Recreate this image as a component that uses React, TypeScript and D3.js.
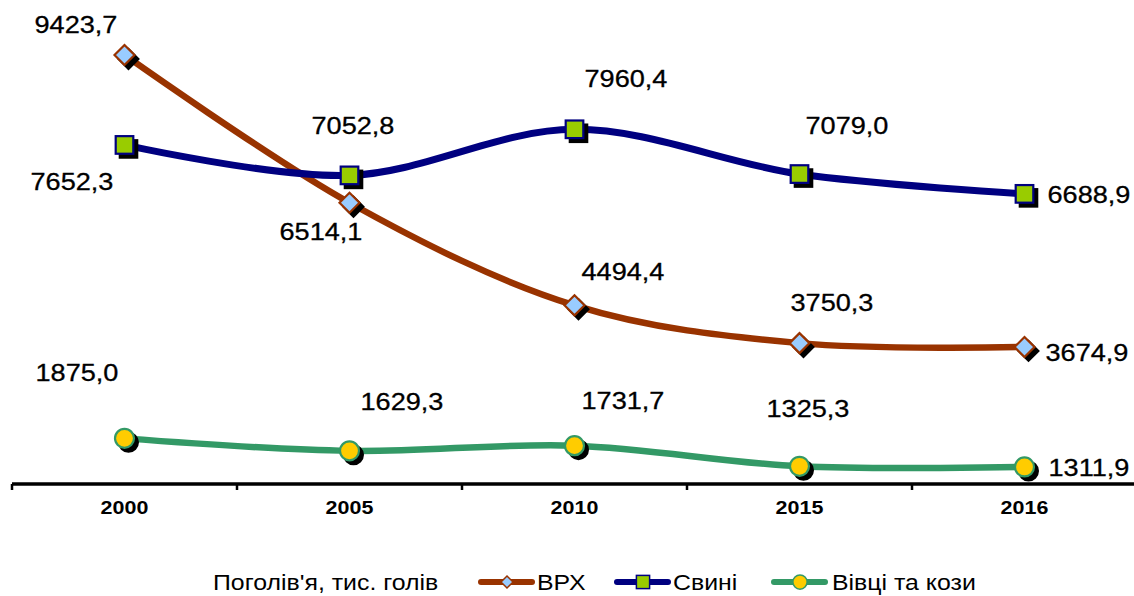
import React from 'react';
import * as d3 from 'd3';

const years = ['2000', '2005', '2010', '2015', '2016'];
const cattle = [9423.7, 6514.1, 4494.4, 3750.3, 3674.9];
const pigs = [7652.3, 7052.8, 7960.4, 7079.0, 6688.9];
const sheep = [1875.0, 1629.3, 1731.7, 1325.3, 1311.9];
const seriesNames = ['ВРХ', 'Свині', 'Вівці та кози'];
const legendTitle = "Поголів'я, тис. голів";

const W = 1134;
const H = 596;
const AXIS_Y = 484;
const SX = 1.13;

// label offsets (left edge / baseline relative to point)
const cattleOff = [[-90, -22], [-70, 37], [7, -25], [-9, -32], [21, 14]];
const pigsOff = [[-94, 45], [-38, -41], [10, -42], [6, -40], [23, 9]];
const sheepOff = [[-89, -57], [11, -41], [7, -37], [-33, -49], [24, 9]];

const fmt = (v: number) => d3.format('.1f')(v).replace('.', ',');

const x = d3.scaleBand<string>().domain(years).range([12, 1137]).padding(0);
const cx = (d: string) => (x(d) as number) + x.bandwidth() / 2;
const y = d3.scaleLinear().domain([0, 10000]).range([533.6, 25.7]);

const line = d3
  .line<number>()
  .x((_, i) => cx(years[i]))
  .y((v) => y(v))
  .curve(d3.curveCardinal.tension(0));

type Kind = 'diamond' | 'square' | 'circle';

const series = [
  { name: seriesNames[0], values: cattle, off: cattleOff, color: '#993300', width: 6.5, kind: 'diamond' as Kind, fill: '#99CCFF', mstroke: '#993300' },
  { name: seriesNames[1], values: pigs, off: pigsOff, color: '#000080', width: 7, kind: 'square' as Kind, fill: '#99CC00', mstroke: '#000080' },
  { name: seriesNames[2], values: sheep, off: sheepOff, color: '#339966', width: 6.5, kind: 'circle' as Kind, fill: '#FFCC00', mstroke: '#339966' },
];

function Marker({ kind, px, py, fill, stroke, size, sw }: { kind: Kind; px: number; py: number; fill: string; stroke: string; size: number; sw: number }) {
  if (kind === 'diamond') {
    const r = size;
    return <path d={`M${px},${py - r}L${px + r},${py}L${px},${py + r}L${px - r},${py}Z`} fill={fill} stroke={stroke} strokeWidth={sw} />;
  }
  if (kind === 'square') {
    const r = size * 0.88;
    return <rect x={px - r} y={py - r} width={2 * r} height={2 * r} fill={fill} stroke={stroke} strokeWidth={sw} />;
  }
  return <circle cx={px} cy={py} r={size * 0.95} fill={fill} stroke={stroke} strokeWidth={sw} />;
}

export default function App() {
  const ticks = d3.range(years.length + 1).map((i) => 12 + i * x.step());
  const legendItems = [
    { s: series[0], lx: 478, tx: 537 },
    { s: series[1], lx: 614, tx: 673 },
    { s: series[2], lx: 771, tx: 832 },
  ];
  const LEG_Y = 582;
  return (
    <svg width={W} height={H} style={{ position: 'absolute', left: 0, top: 0, background: '#fff' }} fontFamily="'Liberation Sans', Arial, sans-serif">
      <rect width={W} height={H} fill="#fff" />
      {/* axis */}
      <line x1={12} x2={W} y1={AXIS_Y} y2={AXIS_Y} stroke="#000" strokeWidth={3.5} />
      {ticks.map((t, i) => (
        <line key={i} x1={t} x2={t} y1={AXIS_Y} y2={AXIS_Y + 6} stroke="#000" strokeWidth={2.5} />
      ))}
      {years.map((yr) => (
        <text key={yr} transform={`translate(${cx(yr)},513.5) scale(${SX},1)`} textAnchor="middle" fontSize={19} fontWeight="bold" fill="#000">
          {yr}
        </text>
      ))}
      {/* series */}
      {series.map((s) => (
        <g key={s.name}>
          <path d={line(s.values) as string} fill="none" stroke={s.color} strokeWidth={s.width} strokeLinecap="round" />
          {s.values.map((v, i) => {
            const px = cx(years[i]);
            const py = y(v);
            return (
              <g key={i}>
                <Marker kind={s.kind} px={px + 4} py={py + 4} fill="#000" stroke="#000" size={10} sw={2} />
                <Marker kind={s.kind} px={px} py={py} fill={s.fill} stroke={s.mstroke} size={10} sw={2.2} />
              </g>
            );
          })}
        </g>
      ))}
      {/* labels */}
      {series.map((s) =>
        s.values.map((v, i) => {
          const px = cx(years[i]);
          const py = y(v);
          return (
            <text key={s.name + i} transform={`translate(${px + s.off[i][0]},${py + s.off[i][1]}) scale(${SX},1)`} fontSize={24} fill="#000" stroke="#000" strokeWidth={0.3}>
              {fmt(v)}
            </text>
          );
        })
      )}
      {/* legend */}
      <text transform={`translate(213,${LEG_Y + 8}) scale(${SX},1)`} fontSize={22} fill="#000">
        {legendTitle}
      </text>
      {legendItems.map(({ s, lx, tx }) => (
        <g key={s.name}>
          <line x1={lx + 3} x2={lx + 54} y1={LEG_Y} y2={LEG_Y} stroke={s.color} strokeWidth={6} strokeLinecap="round" />
          <Marker kind={s.kind} px={lx + 29} py={LEG_Y} fill={s.fill} stroke={s.mstroke} size={s.kind === 'diamond' ? 6 : 7.5} sw={1.5} />
          <text transform={`translate(${tx},${LEG_Y + 8}) scale(${SX},1)`} fontSize={22} fill="#000">
            {s.name}
          </text>
        </g>
      ))}
    </svg>
  );
}
